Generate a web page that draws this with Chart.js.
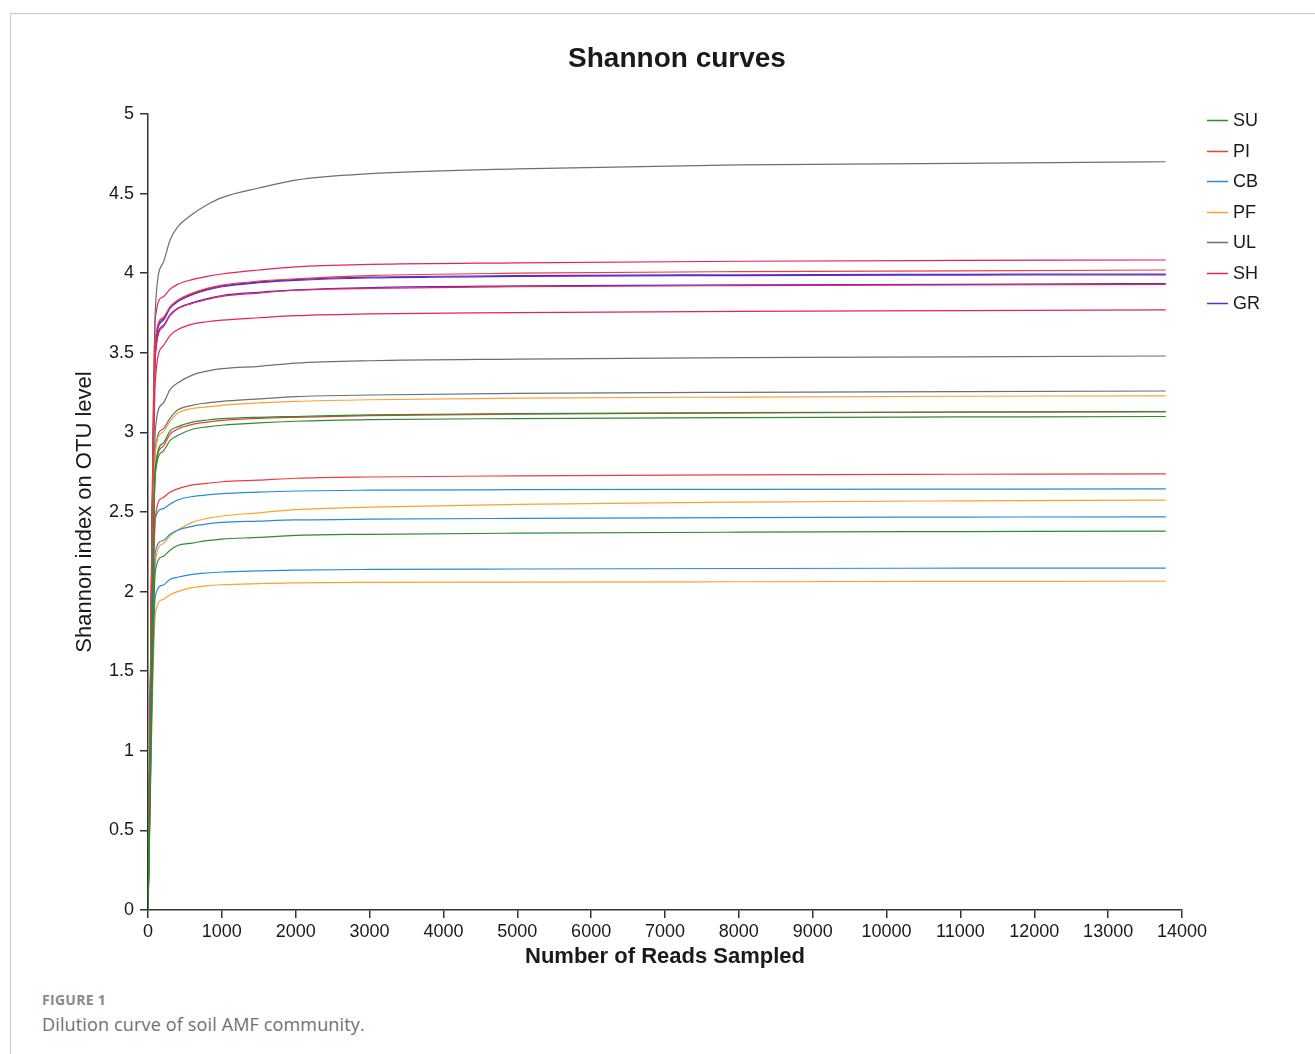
<!DOCTYPE html>
<html>
<head>
<meta charset="utf-8">
<title>Shannon curves</title>
<script src="https://cdn.jsdelivr.net/npm/chart.js@4.4.1/dist/chart.umd.min.js"></script>
<style>
  html, body { margin: 0; padding: 0; background: #fff; }
  body { width: 1315px; height: 1054px; position: relative; overflow: hidden; }
  #frame { position: absolute; left: 10px; top: 13px; right: 0; bottom: 0;
           border-top: 1px solid #c8c8c8; border-left: 1px solid #c8c8c8; }
  #chart { position: absolute; left: 0; top: 0; }
  .fig-label { position: absolute; left: 42px; top: 990px; font: bold 14px "Open Sans", sans-serif;
               color: #8a8a8a; letter-spacing: 0.3px; }
  .fig-caption { position: absolute; left: 42px; top: 1012px; font: 18px "Open Sans", sans-serif;
                 color: #707070; letter-spacing: 0.15px; }
</style>
</head>
<body>
<div id="frame"></div>
<canvas id="chart" width="1315" height="980"></canvas>
<div class="fig-label">FIGURE 1</div>
<div class="fig-caption">Dilution curve of soil AMF community.</div>

<script>
// reads sampled at each point of the curves
const reads = [0, 100, 200, 300, 400, 600, 800, 1000, 1500, 2000, 3000, 5000, 8000, 11000, 13780];

const groups = ['SU', 'PI', 'CB', 'PF', 'UL', 'SH', 'GR'];
const groupColors = ['#2e8b2e', '#f03c3c', '#2a8ad6', '#ffa030', '#6e6e6e', '#e8215e', '#5a2bc9'];

// three replicate curves per group, Shannon index at each read count
const suCurves = [
  [0, 2.78, 2.93, 3.01, 3.035, 3.065, 3.078, 3.086, 3.095, 3.10, 3.11, 3.118, 3.124, 3.128, 3.13],
  [0, 2.74, 2.88, 2.95, 2.98, 3.02, 3.035, 3.045, 3.06, 3.07, 3.08, 3.087, 3.093, 3.097, 3.10],
  [0, 2.13, 2.22, 2.26, 2.29, 2.305, 2.32, 2.33, 2.34, 2.353, 2.36, 2.367, 2.373, 2.377, 2.38]
];
const piCurves = [
  [0, 3.58, 3.72, 3.79, 3.83, 3.875, 3.905, 3.925, 3.95, 3.965, 3.985, 4.0, 4.01, 4.015, 4.02],
  [0, 2.76, 2.91, 2.99, 3.02, 3.05, 3.065, 3.075, 3.088, 3.095, 3.105, 3.115, 3.122, 3.127, 3.13],
  [0, 2.47, 2.59, 2.625, 2.645, 2.67, 2.68, 2.69, 2.70, 2.712, 2.72, 2.727, 2.733, 2.737, 2.74]
];
const cbCurves = [
  [0, 2.46, 2.52, 2.55, 2.575, 2.597, 2.607, 2.615, 2.625, 2.632, 2.637, 2.64, 2.642, 2.644, 2.645],
  [0, 2.25, 2.32, 2.36, 2.385, 2.41, 2.425, 2.435, 2.443, 2.45, 2.455, 2.46, 2.465, 2.468, 2.47],
  [0, 1.97, 2.04, 2.077, 2.09, 2.108, 2.117, 2.123, 2.13, 2.135, 2.139, 2.142, 2.145, 2.147, 2.148]
];
const pfCurves = [
  [0, 2.88, 3.00, 3.07, 3.12, 3.15, 3.16, 3.17, 3.185, 3.195, 3.205, 3.215, 3.222, 3.227, 3.23],
  [0, 2.19, 2.30, 2.35, 2.385, 2.435, 2.46, 2.475, 2.495, 2.515, 2.53, 2.548, 2.562, 2.57, 2.575],
  [0, 1.86, 1.95, 1.98, 2.0, 2.025, 2.037, 2.043, 2.05, 2.055, 2.058, 2.06, 2.062, 2.064, 2.065]
];
const ulCurves = [
  [0, 3.78, 4.06, 4.21, 4.29, 4.37, 4.43, 4.475, 4.535, 4.585, 4.625, 4.655, 4.68, 4.69, 4.70],
  [0, 3.02, 3.18, 3.27, 3.31, 3.36, 3.385, 3.40, 3.415, 3.435, 3.45, 3.46, 3.47, 3.475, 3.48],
  [0, 2.90, 3.02, 3.09, 3.14, 3.17, 3.185, 3.195, 3.21, 3.225, 3.235, 3.245, 3.252, 3.256, 3.26]
];
const shCurves = [
  [0, 3.72, 3.85, 3.90, 3.93, 3.96, 3.98, 3.995, 4.02, 4.04, 4.055, 4.065, 4.075, 4.08, 4.083],
  [0, 3.48, 3.66, 3.735, 3.775, 3.81, 3.835, 3.855, 3.875, 3.893, 3.905, 3.915, 3.922, 3.926, 3.93],
  [0, 3.33, 3.54, 3.61, 3.645, 3.68, 3.695, 3.705, 3.72, 3.733, 3.745, 3.752, 3.76, 3.765, 3.77]
];
const grCurves = [
  [0, 3.56, 3.71, 3.785, 3.825, 3.87, 3.90, 3.92, 3.945, 3.96, 3.975, 3.985, 3.99, 3.993, 3.995],
  [0, 3.54, 3.70, 3.78, 3.82, 3.865, 3.895, 3.915, 3.94, 3.955, 3.97, 3.98, 3.985, 3.988, 3.99],
  [0, 3.50, 3.67, 3.74, 3.78, 3.815, 3.84, 3.86, 3.88, 3.895, 3.91, 3.92, 3.927, 3.93, 3.935]
];

const curvesByGroup = [suCurves, piCurves, cbCurves, pfCurves, ulCurves, shCurves, grCurves];

const FONT = '"Liberation Sans", Arial, sans-serif';
const INK = '#1a1a1a';

const datasets = [];
curvesByGroup.forEach((curves, g) => {
  curves.forEach(vals => {
    datasets.push({
      label: groups[g],
      data: reads.map((x, i) => ({ x, y: vals[i] })),
      borderColor: groupColors[g],
      borderWidth: 1.2,
      pointRadius: 0,
      fill: false,
      cubicInterpolationMode: 'monotone'
    });
  });
});

// titles + legend drawn straight onto the canvas
const decorations = {
  id: 'decorations',
  afterDraw(chart) {
    const ctx = chart.ctx;
    ctx.save();
    ctx.fillStyle = INK;
    ctx.textBaseline = 'middle';

    ctx.textAlign = 'center';
    ctx.font = 'bold 28px ' + FONT;
    ctx.fillText('Shannon curves', 677, 59);

    ctx.font = 'bold 22px ' + FONT;
    ctx.fillText('Number of Reads Sampled', 665, 957);

    ctx.save();
    ctx.translate(85, 512);
    ctx.rotate(-Math.PI / 2);
    ctx.font = '22px ' + FONT;
    ctx.fillText('Shannon index on OTU level', 0, 0);
    ctx.restore();

    ctx.textAlign = 'left';
    ctx.font = '18px ' + FONT;
    groups.forEach((name, i) => {
      const y = Math.round(120 + i * 30.5) + 0.5;
      ctx.strokeStyle = groupColors[i];
      ctx.lineWidth = 1.5;
      ctx.beginPath();
      ctx.moveTo(1207, y);
      ctx.lineTo(1228, y);
      ctx.stroke();
      ctx.fillStyle = INK;
      ctx.fillText(name, 1233, y + 0.5);
    });
    ctx.restore();
  }
};

new Chart(document.getElementById('chart'), {
  type: 'line',
  data: { datasets },
  options: {
    responsive: false,
    animation: false,
    layout: { padding: { left: 0, top: 114, right: 133, bottom: 0 } },
    plugins: {
      legend: { display: false },
      title: { display: false },
      tooltip: { enabled: false }
    },
    scales: {
      x: {
        type: 'linear',
        min: 0,
        max: 14000,
        afterFit: s => { s.height = 70; },
        ticks: { stepSize: 1000, padding: 3, color: INK, font: { family: FONT, size: 18 }, callback: v => String(v) },
        grid: { drawOnChartArea: false, drawTicks: true, tickLength: 8, color: '#333', lineWidth: 1.5 },
        border: { display: true, color: '#333', width: 1.5 }
      },
      y: {
        min: 0,
        max: 5,
        afterFit: s => { s.width = 148; },
        ticks: { stepSize: 0.5, padding: 6, color: INK, font: { family: FONT, size: 18 }, callback: v => String(v) },
        grid: { drawOnChartArea: false, drawTicks: true, tickLength: 8, color: '#333', lineWidth: 1.5 },
        border: { display: true, color: '#333', width: 1.5 }
      }
    }
  },
  plugins: [decorations]
});
</script>
</body>
</html>
